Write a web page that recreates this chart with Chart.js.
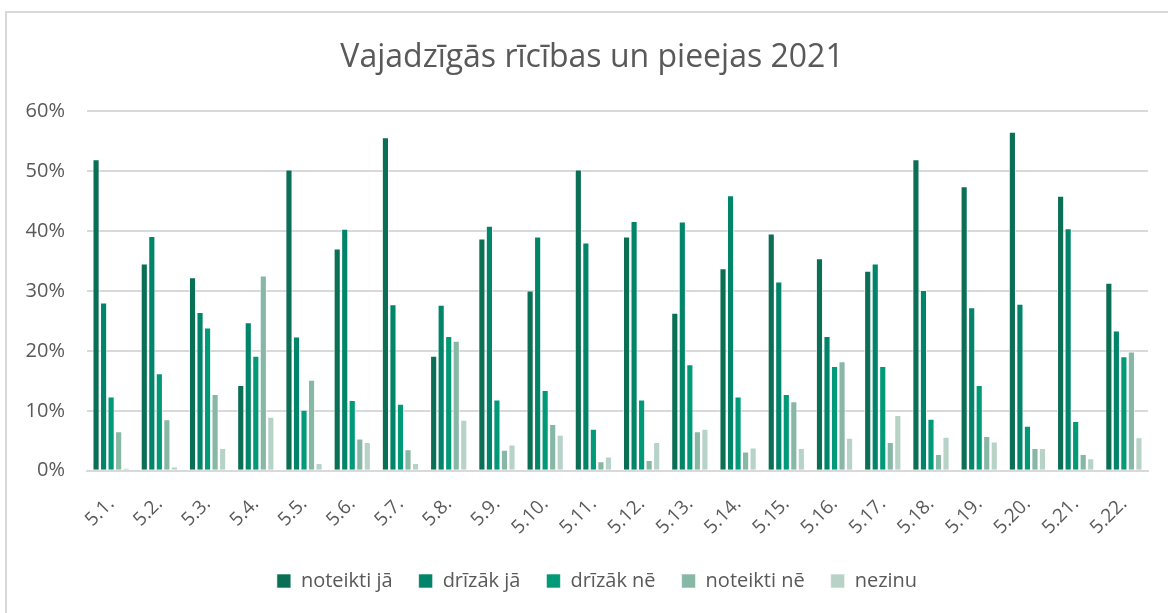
<!DOCTYPE html>
<html>
<head>
<meta charset="utf-8">
<script src="https://cdn.jsdelivr.net/npm/chart.js@4/dist/chart.umd.min.js"></script>
<style>
    html, body { margin: 0; padding: 0; background: #fff; overflow: hidden; }
    #wrap { position: relative; width: 1168px; height: 613px; }
    #frame { position: absolute; left: 5px; top: 11px; width: 1200px; height: 700px; border: 2px solid #d9d9d9; box-sizing: border-box; }
    #chart { position: absolute; left: 0; top: 0; }
</style>
</head>
<body>
<div id="wrap">
    <div id="frame"></div>
    <canvas id="chart" width="1168" height="613"></canvas>
</div>
<script>
// Categories (questions 5.1. - 5.22.)
const categories = ['5.1.', '5.2.', '5.3.', '5.4.', '5.5.', '5.6.', '5.7.', '5.8.', '5.9.', '5.10.', '5.11.',
    '5.12.', '5.13.', '5.14.', '5.15.', '5.16.', '5.17.', '5.18.', '5.19.', '5.20.', '5.21.', '5.22.'];

// Shares of answers, %
const noteiktiJa = [52.0, 34.6, 32.3, 14.3, 50.3, 37.1, 55.7, 19.2, 38.8, 30.1, 50.3,
    39.1, 26.4, 33.8, 39.6, 35.5, 33.4, 52.0, 47.5, 56.6, 45.9, 31.4];
const drizakJa = [28.1, 39.2, 26.5, 24.8, 22.4, 40.4, 27.8, 27.7, 40.9, 39.1, 38.1,
    41.7, 41.6, 46.0, 31.6, 22.5, 34.6, 30.2, 27.3, 27.9, 40.5, 23.4];
const drizakNe = [12.4, 16.3, 23.9, 19.2, 10.2, 11.8, 11.2, 22.5, 11.9, 13.5, 7.0,
    11.9, 17.8, 12.4, 12.8, 17.5, 17.5, 8.7, 14.3, 7.5, 8.3, 19.1];
const noteiktiNe = [6.6, 8.6, 12.8, 32.6, 15.2, 5.4, 3.6, 21.7, 3.5, 7.8, 1.6,
    1.8, 6.6, 3.2, 11.6, 18.3, 4.8, 2.8, 5.8, 3.8, 2.8, 19.9];
const nezinu = [0.5, 0.7, 3.8, 9.0, 1.3, 4.8, 1.3, 8.5, 4.4, 6.0, 2.4,
    4.8, 7.0, 3.9, 3.8, 5.5, 9.3, 5.7, 4.9, 3.8, 2.1, 5.6];

const seriesNames = ['noteikti jā', 'drīzāk jā', 'drīzāk nē', 'noteikti nē', 'nezinu'];
const seriesColors = ['#0b6f55', '#00856a', '#009a79', '#87b7a5', '#b7d3c7'];

const textColor = '#595959';
const gridColor = '#d9d9d9';
const fontFamily = "'Open Sans', 'Noto Sans', sans-serif";

const allSeries = [noteiktiJa, drizakJa, drizakNe, noteiktiNe, nezinu];

// the original centres title and legend a bit to the right of the canvas middle,
// and keeps the legend a little higher than chart.js would put it
const nudgeBlocks = {
    id: 'nudgeBlocks',
    afterLayout(chart) {
        chart.titleBlock.left += 8;
        chart.titleBlock.right += 8;
        chart.legend.left += 13;
        chart.legend.right += 13;
        chart.legend.top -= 9;
        chart.legend.bottom -= 9;
    }
};

const ctx = document.getElementById('chart').getContext('2d');

new Chart(ctx, {
    type: 'bar',
    data: {
        labels: categories,
        datasets: allSeries.map((values, i) => ({
            label: seriesNames[i],
            data: values,
            backgroundColor: seriesColors[i],
            borderColor: 'rgba(255,255,255,0.6)',
            borderWidth: 1,
            barPercentage: 0.95,
            categoryPercentage: 0.78
        }))
    },
    options: {
        responsive: false,
        animation: false,
        layout: {
            padding: { left: 20, right: 20, top: 0, bottom: 3 }
        },
        scales: {
            x: {
                grid: { display: false, drawTicks: false },
                border: { color: gridColor, width: 2 },
                ticks: {
                    color: textColor,
                    font: { family: fontFamily, size: 19 },
                    minRotation: 45,
                    maxRotation: 45,
                    autoSkip: false,
                    padding: 22
                },
                afterFit: (scale) => { scale.height -= 7; }
            },
            y: {
                min: 0,
                max: 60,
                grid: { color: gridColor, lineWidth: 2, drawTicks: false },
                border: { display: false },
                ticks: {
                    stepSize: 10,
                    color: textColor,
                    font: { family: fontFamily, size: 20 },
                    padding: 22,
                    callback: (v) => v + '%'
                },
                afterFit: (scale) => { scale.width = 67; }
            }
        },
        plugins: {
            title: {
                display: true,
                text: 'Vajadzīgās rīcības un pieejas 2021',
                color: textColor,
                font: { family: fontFamily, size: 32, weight: 'normal' },
                padding: { top: 39, bottom: 34 }
            },
            legend: {
                position: 'bottom',
                labels: {
                    color: textColor,
                    font: { family: fontFamily, size: 20 },
                    boxWidth: 14,
                    boxHeight: 14,
                    padding: 26
                }
            },
            tooltip: { enabled: false }
        }
    },
    plugins: [nudgeBlocks]
});
</script>
</body>
</html>
